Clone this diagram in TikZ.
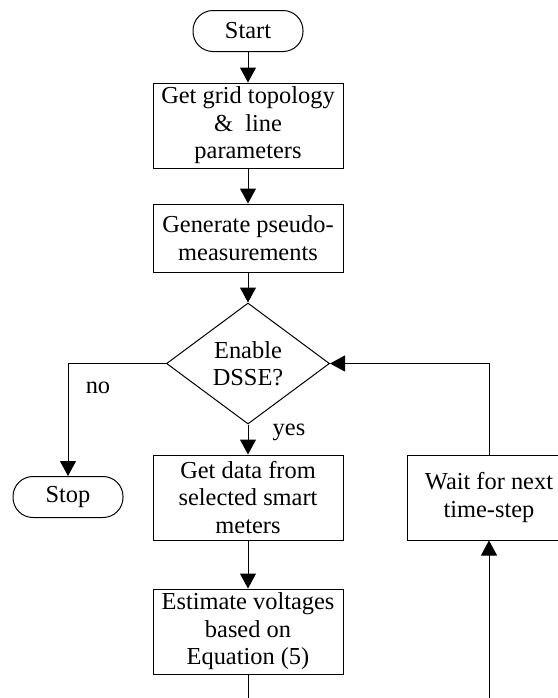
\documentclass[tikz,border=0pt]{standalone}
\usepackage{fontspec}
\setmainfont{Liberation Serif}
\usetikzlibrary{shapes,shapes.geometric,arrows.meta,calc,positioning}

\begin{document}
\begin{tikzpicture}[x=0.5pt,y=-0.5pt,
	  every node/.style={align=center,font=\fontsize{12.2}{13.8}\selectfont,inner sep=0pt},
	  terminal/.style={draw,line width=0.5pt,rounded corners=10pt,minimum width=55pt,minimum height=20.5pt},
	  process/.style={draw,line width=0.5pt,minimum width=95pt,minimum height=42.5pt},
	  decision/.style={draw,line width=0.5pt,diamond,aspect=1.35,minimum width=81.5pt,minimum height=60.5pt},
	  flow/.style={-{Triangle[width=8pt,length=7.5pt]},line width=0.5pt},
	  wire/.style={line width=0.5pt}]

	  \useasboundingbox (0,0) rectangle (558,698);

	  % main column
	  \node[terminal] (start) at (248,31) {Start};
	  \node[process] (topology) at (248,125.5) {Get grid topology\\\&~~line\\parameters};
	  \node[process,minimum height=34pt] (pseudo) at (248,238) {Generate pseudo-\\measurements};
	  \node[decision] (dsse) at (248,363.5) {Enable\\DSSE?};
	  \node[process] (meters) at (248,497.5) {Get data from\\selected smart\\meters};
	  \node[process] (estimate) at (248,631.5) {Estimate voltages\\based on\\Equation (5)};

	  % side nodes
	  \node[terminal] (stop) at (68,497) {Stop};
	  \node[process,minimum width=82pt] (wait) at (489,497.5) {Wait for next\\time-step};
	  \coordinate (estout) at (248,698);
	  \coordinate (waitin) at (489,698);

	  \draw[flow] (start) -- (topology);
	  \draw[flow] (topology) -- (pseudo);
	  \draw[flow] (pseudo) -- (dsse);
	  \draw[flow] (dsse) -- (meters);
	  \draw[flow] (meters) -- (estimate);
	  \draw[flow] (dsse.west) -| (stop);
	  \draw[wire] (estimate) -- (estout);
	  \draw[flow] (waitin) -- (wait);
	  \draw[flow] (wait.north) |- (dsse.east);

	  \node (no) at (98,388) {no};
	  \node (yes) at (289,432) {yes};

\end{tikzpicture}
\end{document}
